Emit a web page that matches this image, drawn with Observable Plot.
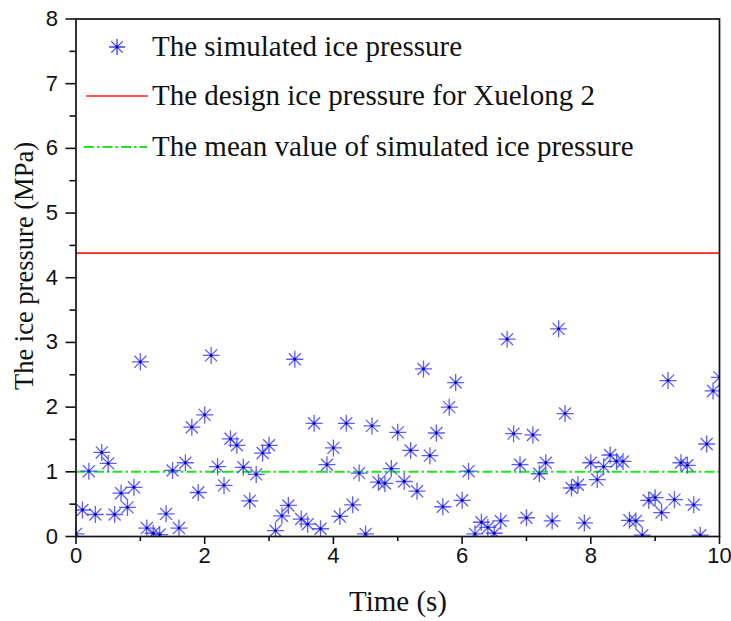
<!DOCTYPE html>
<html><head><meta charset="utf-8">
<script src="https://cdn.jsdelivr.net/npm/d3@7"></script>
<script src="https://cdn.jsdelivr.net/npm/@observablehq/plot@0.6"></script>
<style>body{margin:0;background:#fff}#chart{position:relative;width:731px;height:621px}</style>
</head><body><div id="chart"></div>
<script>
const times = [0.0,0.1,0.2,0.3,0.4,0.5,0.6,0.7,0.8,0.9,1.0,1.1,1.2,1.3,1.4,1.5,1.6,1.7,1.8,1.9,
  2.0,2.1,2.2,2.3,2.4,2.5,2.6,2.7,2.8,2.9,3.0,3.1,3.2,3.3,3.4,3.5,3.6,3.7,3.8,3.9,
  4.0,4.1,4.2,4.3,4.4,4.5,4.6,4.7,4.8,4.9,5.0,5.1,5.2,5.3,5.4,5.5,5.6,5.7,5.8,5.9,
  6.0,6.1,6.2,6.3,6.4,6.5,6.6,6.7,6.8,6.9,7.0,7.1,7.2,7.3,7.4,7.5,7.6,7.7,7.8,7.9,
  8.0,8.1,8.2,8.3,8.4,8.5,8.6,8.7,8.8,8.9,9.0,9.1,9.2,9.3,9.4,9.5,9.6,9.7,9.8,9.9,10.0];
const pressures = [0.04,0.41,1.01,0.34,1.30,1.13,0.34,0.67,0.45,0.76,2.70,0.13,0.05,0.03,0.35,1.02,0.13,1.14,1.69,0.68,
  1.88,2.80,1.08,0.79,1.51,1.41,1.07,0.55,0.96,1.29,1.41,0.09,0.32,0.48,2.74,0.27,0.19,1.75,0.12,1.11,
  1.37,0.31,1.75,0.49,0.98,0.04,1.71,0.84,0.82,1.05,1.61,0.85,1.33,0.70,2.59,1.25,1.60,0.46,2.00,2.38,
  0.56,1.01,0.04,0.22,0.14,0.05,0.24,3.05,1.59,1.11,0.29,1.57,0.97,1.14,0.24,3.21,1.90,0.75,0.80,0.21,
  1.14,0.88,1.08,1.26,1.16,1.16,0.25,0.24,0.02,0.56,0.60,0.37,2.41,0.57,1.14,1.10,0.49,0.02,1.43,2.25,2.46];
const designPressure = 4.38;
const meanPressure = 1.0;
const xMajorTicks = [0,2,4,6,8,10];
const xMinorTicks = [1,3,5,7,9];
const yMajorTicks = [0,1,2,3,4,5,6,7,8];
const yMinorTicks = [0.5,1.5,2.5,3.5,4.5,5.5,6.5,7.5];
const legendLabels = ["The simulated ice pressure","The design ice pressure for Xuelong 2","The mean value of simulated ice pressure"];
const xTitle = "Time (s)";
const yTitle = "The ice pressure (MPa)";

const data = times.map((t, i) => ({t, p: pressures[i]}));

const asterisk = {
  draw(ctx, size) {
    const r = Math.sqrt(size / Math.PI), d = r * Math.SQRT1_2;
    ctx.moveTo(-r, 0); ctx.lineTo(r, 0);
    ctx.moveTo(0, -r); ctx.lineTo(0, r);
    ctx.moveTo(-d, -d); ctx.lineTo(d, d);
    ctx.moveTo(-d, d); ctx.lineTo(d, -d);
  }
};
const starColor = "#4040ff";
const redColor = "#ff2020";
const greenColor = "#1ee61e";
const sans = "'Liberation Sans', Arial, sans-serif";
const serif = "'Liberation Serif', 'Times New Roman', serif";

const plot = Plot.plot({
  width: 731, height: 621,
  marginLeft: 75.5, marginRight: 12, marginTop: 18.5, marginBottom: 85,
  style: {fontFamily: sans, fontSize: "22px", color: "#111", background: "#fff"},
  x: {domain: [0, 10]},
  y: {domain: [0, 8]},
  marks: [
    Plot.ruleY([designPressure], {stroke: redColor, strokeWidth: 1.6}),
    Plot.ruleY([meanPressure], {stroke: greenColor, strokeWidth: 2, strokeDasharray: "10,3,2.5,3"}),
    Plot.dot(data, {x: "t", y: "p", r: 8.5, symbol: asterisk, fill: "none", stroke: starColor, strokeWidth: 1.3, strokeOpacity: 0.85, clip: "frame"}),
    Plot.dot(data, {x: "t", y: "p", r: 1.4, fill: "#0000b0", stroke: "none", clip: "frame"}),
    Plot.axisX({ticks: xMajorTicks, tickSize: 8, tickPadding: 3, label: null, strokeWidth: 1.6}),
    Plot.axisX({ticks: xMinorTicks, tickSize: 5, tickFormat: () => "", label: null, strokeWidth: 1.6}),
    Plot.axisY({ticks: yMajorTicks, tickSize: 10, tickPadding: 8, label: null, strokeWidth: 1.6}),
    Plot.axisY({ticks: yMinorTicks, tickSize: 6, tickFormat: () => "", label: null, strokeWidth: 1.6}),
    Plot.frame({stroke: "#111", strokeWidth: 1.7})
  ]
});
document.getElementById("chart").appendChild(plot);

const svg = d3.select(plot);
svg.selectAll('g[aria-label$="tick label"]').attr("font-size", null).style("font-size", "22px").style("font-family", sans).attr("fill", "#111");
// axis titles
svg.append("text").attr("x", 398).attr("y", 611).attr("text-anchor", "middle")
  .style("font-family", serif).style("font-size", "29px").attr("fill", "#111").text(xTitle);
svg.append("text").attr("transform", "translate(33,266) rotate(-90)").attr("text-anchor", "middle")
  .style("font-family", serif).style("font-size", "26.5px").attr("fill", "#111").text(yTitle);

// legend
const lg = svg.append("g").attr("text-anchor", "start");
const rows = [47, 96, 147];
lg.append("path").attr("d", d3.symbol(asterisk, Math.PI * 8 * 8)())
  .attr("transform", `translate(117,${rows[0]})`).attr("fill", "none")
  .attr("stroke", starColor).attr("stroke-width", 1.3);
lg.append("circle").attr("cx", 117).attr("cy", rows[0]).attr("r", 1.4).attr("fill", "#0000b0");
lg.append("line").attr("x1", 86).attr("x2", 148).attr("y1", rows[1]).attr("y2", rows[1])
  .attr("stroke", redColor).attr("stroke-width", 1.6);
lg.append("line").attr("x1", 84).attr("x2", 147).attr("y1", rows[2]).attr("y2", rows[2])
  .attr("stroke", greenColor).attr("stroke-width", 2).attr("stroke-dasharray", "10,3,2.5,3");
legendLabels.forEach((s, i) => {
  lg.append("text").attr("x", 152).attr("y", rows[i] + 9).attr("text-anchor", "start").style("font-family", serif)
    .style("font-size", "29px").attr("fill", "#111").text(s);
});
</script></body></html>
